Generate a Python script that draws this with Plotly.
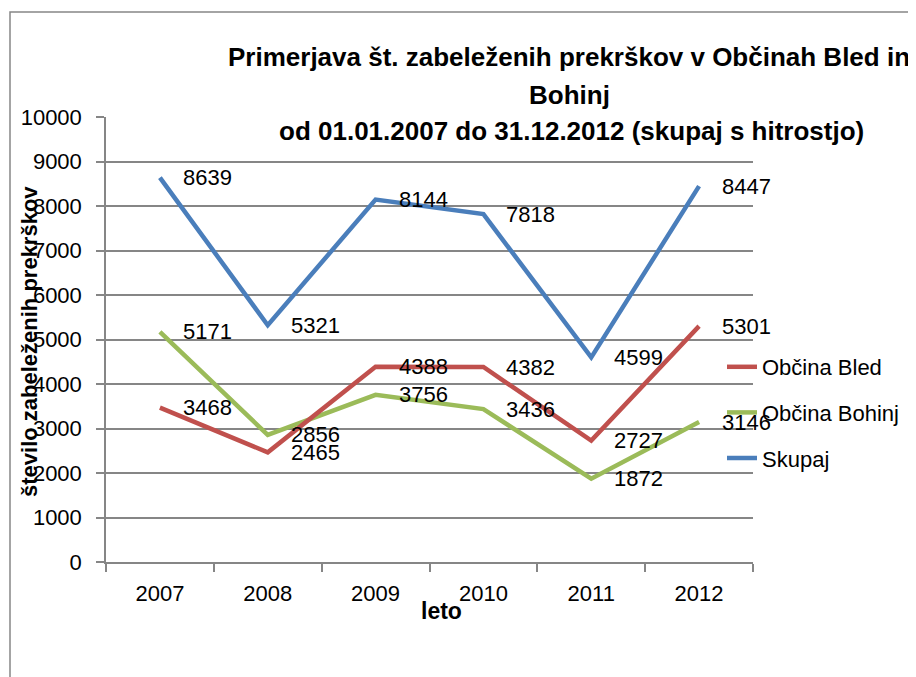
import plotly.graph_objects as go

years = ["2007", "2008", "2009", "2010", "2011", "2012"]
bled = [3468, 2465, 4388, 4382, 2727, 5301]
bohinj = [5171, 2856, 3756, 3436, 1872, 3146]
skupaj = [8639, 5321, 8144, 7818, 4599, 8447]

series_names = ["Občina Bled", "Občina Bohinj", "Skupaj"]
title_lines = ["Primerjava št. zabeleženih prekrškov v Občinah Bled in",
               "Bohinj",
               "od 01.01.2007 do 31.12.2012 (skupaj s hitrostjo)"]
y_title = "število zabeleženih prekrškov"
x_title = "leto"

FONT = "Liberation Sans, Arial, sans-serif"
GRID = "#868686"
colors = {"Občina Bled": "#C0504D", "Občina Bohinj": "#9BBB59", "Skupaj": "#4A7EBB"}

W, H = 916, 677
OFF = 8  # page body margin offset
PL, PR, PT, PB = 106, 753, 117, 562  # plot area in window pixels
L, T = PL - OFF, PT - OFF
R, B = W - (PR - OFF), H - (PB - OFF)


def px_x(p):
    return (p - PL) / (PR - PL)


def px_y(p):
    return (PB - p) / (PB - PT)


data = {"Občina Bled": bled, "Občina Bohinj": bohinj, "Skupaj": skupaj}
draw_order = ["Občina Bohinj", "Občina Bled", "Skupaj"]

fig = go.Figure()
for name in draw_order:
    fig.add_trace(go.Scatter(
        x=years, y=data[name], name=name, mode="lines",
        line=dict(color=colors[name], width=4.5),
        legendrank=series_names.index(name) + 1,
        legendgroup=name,
    ))

annotations = []
for name in series_names:
    for i, yv in enumerate(data[name]):
        annotations.append(dict(
            x=i, y=yv, xref="x", yref="y", text=str(yv), showarrow=False,
            xanchor="left", yanchor="middle", xshift=21,
            font=dict(family=FONT, size=22, color="black"),
        ))

title_y = [57, 95, 131]
title_x = [569, 569, 571]
for line, tx, ty in zip(title_lines, title_x, title_y):
    annotations.append(dict(
        x=px_x(tx), y=px_y(ty), xref="paper", yref="paper",
        text="<b>" + line + "</b>", showarrow=False,
        xanchor="center", yanchor="middle", align="center",
        font=dict(family=FONT, size=26, color="black"),
    ))
annotations.append(dict(
    x=px_x(29), y=px_y(342), xref="paper", yref="paper",
    text="<b>" + y_title + "</b>", showarrow=False, textangle=-90,
    xanchor="center", yanchor="middle",
    font=dict(family=FONT, size=22, color="black"),
))
annotations.append(dict(
    x=px_x(441), y=px_y(611), xref="paper", yref="paper",
    text="<b>" + x_title + "</b>", showarrow=False,
    xanchor="center", yanchor="middle",
    font=dict(family=FONT, size=23, color="black"),
))

shapes = [dict(
    type="rect", xref="paper", yref="paper",
    x0=px_x(10), x1=px_x(940), y0=px_y(720), y1=px_y(12),
    line=dict(color=GRID, width=1.5), layer="below",
)]

fig.update_layout(
    width=W, height=H,
    margin=dict(l=L, r=R, t=T, b=B, autoexpand=False),
    paper_bgcolor="white", plot_bgcolor="white",
    font=dict(family=FONT, size=22, color="black"),
    showlegend=True,
    legend=dict(
        x=px_x(722), y=px_y(346), xanchor="left", yanchor="top",
        bgcolor="rgba(0,0,0,0)", traceorder="grouped", tracegroupgap=14,
        font=dict(family=FONT, size=22, color="black"),
    ),
    annotations=annotations,
    shapes=shapes,
)
fig.update_xaxes(
    type="category", range=[-0.5, 5.5], showline=True, linecolor=GRID, linewidth=1.5,
    ticks="outside", tickson="boundaries", ticklen=8, tickcolor=GRID, tickwidth=1.5,
    showgrid=False, tickfont=dict(family=FONT, size=22, color="black"),
    ticklabelstandoff=11,
)
fig.update_yaxes(
    range=[0, 10000], dtick=1000, tickformat="d", showline=True, linecolor=GRID, linewidth=1.5,
    ticks="outside", ticklen=8, tickcolor=GRID, tickwidth=1.5,
    showgrid=True, gridcolor=GRID, gridwidth=1.5, zeroline=False,
    tickfont=dict(family=FONT, size=22, color="black"),
    ticklabelstandoff=10,
)

fig.write_html("out.html")
